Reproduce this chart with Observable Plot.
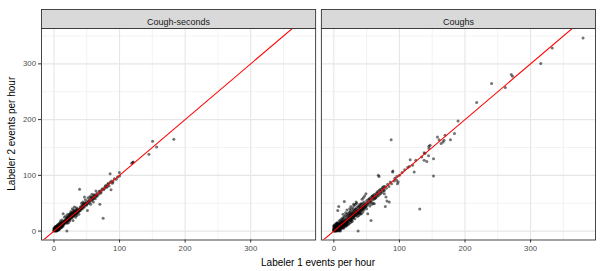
<!DOCTYPE html>
<html><head><meta charset="utf-8">
<script src="https://cdn.jsdelivr.net/npm/d3@7"></script>
<script src="https://cdn.jsdelivr.net/npm/@observablehq/plot@0.6"></script>
<style>body{margin:0;background:#fff}</style>
</head><body><div id="chart"></div>
<script>
const panels = ["Cough-seconds", "Coughs"];
const xTitle = "Labeler 1 events per hour";
const yTitle = "Labeler 2 events per hour";
const majorTicks = [0, 100, 200, 300];
const minorTicks = [50, 150, 250, 350];
const xDomain = [-19, 399];
const yDomain = [-16, 363.5];

// Cough-seconds panel: [labeler 1, labeler 2]
const coughSecondsPts = [
[0,0],[0,1],[1,0],[1,1],[0.5,2],[2,0.5],[1,3],[2,2],[3,1],[2,4],[3,3],[4,2],[3,5],[4,4],[5,3],[4,6],[5,5],[6,4],[5,7],[6,6],[7,5],[6,8],[7,7],[8,6],[7,9],[8,8],[9,7],[8,10],[9,9],[10,8],[9,11],[10,10],[11,9],[10,12],[11,11],[12,10],[11,13],[12,12],[13,11],[12,14],[13,13],[14,12],[13,15],[14,14],[15,13],[2,6],[3,8],[5,10],[6,12],[8,14],[4,0],[6,2],[8,3],[10,6],[12,7],[0,3],[0,5],[1,6],[3,0],[7,2],[9,4],[11,7],[14,9],[5,1],[7,11],[9,13],[10,15],[4,9],[1,4],[2,8],
[15,15],[16,16],[16,18],[17,15],[17,17],[18,18],[18,20],[19,17],[19,19],[20,20],[20,22],[21,19],[21,21],[22,22],[22,25],[23,21],[23,23],[24,24],[24,27],[25,23],[25,25],[26,26],[26,29],[27,25],[27,27],[28,28],[28,31],[29,27],[29,29],[30,30],[30,33],[31,29],[31,31],[32,32],[32,36],[33,30],[33,33],[34,34],[34,38],[35,33],[35,35],[36,36],[36,40],[37,35],[37,37],[38,38],[39,37],[39,39],[40,40],[40,43],
[14,31],[18,27],[20,14],[22,15],[24,18],[29,19],[26,35],[28,40],[31,43],[33,25],[35,28],[19.7,0],[38,30],[16,25],[12,20],[10,18],[21,30],[25,32],[30,38],[34,42],
[41,41],[42,44],[43,42],[44,45],[45,44],[46,48],[46.5,43],[46.5,61],[47,47],[48,50],[49,47],[50,52],[51,37],[51,50],[52,54],[53,52],[54,56],[55,53],[56,58],[57,55],[58,60],[59,58],[60,62],[61,59],[62,64],[63,61],[64,65],[65,63],[66,68],[68,66],[70,48],[70,72],[72,70],[74,76],[75,23],[76,74],[78,80],[80,78],[82,84],[84,81],[86,88],[87,74],[85.6,103],[88,90],[90,88],[92,94],[95,93],
[39,75],[42,50],[44,52],[48,56],[52,60],[55,62],[58,66],[60,52],[64,72],[56,48],
[3,6],[5,8],[7,4],[9,12],[11,14],[13,10],[15,18],[17,20],[19,22],[21,24],[23,26],[25,28],[27,30],[29,32],[31,34],[33,36],[35,38],[16,13],[18,15],[20,17],[22,19],[24,21],[26,23],[28,25],[30,27],[32,29],[34,31],[36,33],[38,35],[40,37],[42,39],[44,41],[43,47],[45,49],[47,51],[50,47],[53,50],[57,61],[59,56],[61,65],[63,58],[66,63],[69,71],[71,68],[73,74],[77,77],[79,82],[81,80],[83,86],[89,86],[6,9],[8,11],[10,13],[12,15],[14,17],[4,1],[6,3],[8,5],[10,7],[12,9],[14,11],[2,5],[20,25],[22,28],[24,30],[26,32],[28,34],[30,36],
[97,97],[99.7,105],[100,99],[118.5,121.5],[120,123],[121,124],[144.8,137.7],[150.4,161],[156.5,150.8],[182.8,165]
];

// Coughs panel: [labeler 1, labeler 2]
const coughsPts = [
[0,0],[0,1],[1,0],[1,1],[0,2],[2,0],[1,2],[2,1],[2,2],[0,3],[3,0],[1,3],[3,1],[2,3],[3,2],[3,3],[0,4],[4,0],[2,4],[4,2],[4,4],[1,5],[5,1],[3,5],[5,3],[5,5],[2,6],[6,2],[4,6],[6,4],[6,6],[3,7],[7,3],[5,7],[7,5],[7,7],[4,8],[8,4],[6,8],[8,6],[8,8],[5,9],[9,5],[7,9],[9,7],[9,9],[6,10],[10,6],[8,10],[10,8],[10,10],[7,11],[11,7],[9,11],[11,9],[11,11],[8,12],[12,8],[10,12],[12,10],[12,12],[9,13],[13,9],[11,13],[13,11],[13,13],[10,14],[14,10],[12,14],[14,12],[14,14],[11,15],[15,11],[13,15],[15,13],[15,15],[12,16],[16,12],[14,16],[16,14],[16,16],[13,17],[17,13],[15,17],[17,15],[17,17],[18,14],[18,18],[16,19],[19,16],[19,19],[20,17],[20,20],[18,21],[21,18],[21,21],[0,6],[0,8],[2,9],[4,11],[6,14],[3,12],[8,2],[10,3],[12,5],[14,6],[16,8],[18,10],[7,0],[9,1],[1,9],[5,13],[11,18],[13,20],[15,22],[20,12],[22,14],
[22,22],[22,25],[23,20],[23,23],[24,24],[24,28],[25,21],[25,25],[26,26],[26,30],[27,23],[27,27],[28,28],[28,32],[29,25],[29,29],[30,30],[30,34],[31,27],[31,31],[32,32],[32,37],[33,28],[33,33],[34,34],[34,39],[35,30],[35,35],[36,36],[36.5,34],[37,0],[37,32],[37,37],[38,38],[38,43],[39,34],[39,39],[40,40],[40,45],[41,36],[41,41],[42,42],[42,48],[43,38],[43,43],[44,44],[44,50],[45,40],[45,45],[46,46],[46,52],[47,42],[47,47],[48,48],[49,44],[49,67],[49,49],[50,50],[50,55],
[6,37],[7.5,44],[16,53],[14,30],[18,33],[20,38],[24,40],[26,19],[28,20],[30,24],[32,22],[26,44],[30,48],[34,52],[38,28],[40,32],[44,34],[46,38],[50,40],
[19,24],[21,27],[23,29],[25,31],[27,33],[29,36],[31,38],[33,40],[35,42],[37,44],[39,47],[41,49],[20,15],[22,17],[24,19],[26,21],[28,23],[30,26],[32,28],[34,29],[36,31],[38,33],[40,36],[42,38],[44,40],[46,42],[48,44],[50,46],[52,48],[54,58],[56,52],[58,62],[60,64],[62,58],[64,60],[66,70],[68,64],[70,74],[72,68],[74,78],[76,80],[5,11],[7,13],[9,15],[3,9],[11,5],[13,7],[15,9],[17,11],[19,13],[4,14],[8,18],[2,12],[10,20],[12,22],[14,24],[16,26],[18,28],[20,30],[22,32],[24,34],[18,8],[20,10],[22,12],[24,14],[26,16],[28,17],[0,10],[10,0],[5,15],[15,5],[25,36],[27,39],[29,42],[31,46],[33,48],[35,50],[43,57],[45,60],[47,63],[36,26],[40,30],[42,31],[55,45],[58,48],[60,50],
[51.7,31],[52,52],[53,57],[54,50],[55,55],[56,60],[56.7,19],[57,53],[58,58],[59,63],[60,56],[61,61],[61.7,49],[62,66],[63,59],[64,64],[65,68],[66,62],[67,67],[67.8,100],[68,72],[69,98],[70,66],[71,71],[72,75],[74,70],[75,76],[76,73],[77,73],[77,67],[78,80],[78.5,44],[79.5,61],[80,77],[81,54],[82,84],[84,80],[84.5,52],[86,88],[87.4,164],[88,85],[89.7,106],[90,107.7],[92,90],[93,95],[95.7,91],[97,85],[98,88],[96,98],[100,100],
[104,105],[108,110],[112.5,114],[115,116],[116.4,128],[120,118],[122.5,106],[125,127],[131,39.5],[134,133],[137.7,127],[137.7,140.7],[139,139],[141.8,125],[144.4,135],[145,148],[145,152],[146.8,154],[152,130],[152,98.7],[158,169],[160.5,164],[163.6,157],[166.6,160],[168,163],[169.6,172],[177.8,164],[184,175],[189.4,197.5],[217.8,230.5],[240.6,265],[261.4,257.5],[270.5,281],[272.5,278],[315.5,300.5],[333,328.5],[380,346.5]
];

const rows = [
  ...coughSecondsPts.map(([x, y]) => ({panel: panels[0], x, y})),
  ...coughsPts.map(([x, y]) => ({panel: panels[1], x, y}))
];
const refLine = panels.map(p => ({panel: p}));

const W = 602, H = 271, mL = 41, mR = 7, mT = 28, mB = 31.5;
const frameH = H - mT - mB;
const stripH = 19;
const font = "'Liberation Sans', Arial, Helvetica, sans-serif";

const plot = Plot.plot({
  width: W, height: H,
  marginLeft: mL, marginRight: mR, marginTop: mT, marginBottom: mB,
  style: {fontFamily: font, background: "#fff"},
  facet: {marginTop: 0, marginRight: 0, marginBottom: 0, marginLeft: 0},
  fx: {domain: panels, paddingInner: 0.0205, paddingOuter: 0, round: false, axis: null, label: null},
  x: {domain: xDomain, label: null},
  y: {domain: yDomain, label: null},
  marks: [
    Plot.gridX({ticks: minorTicks, stroke: "#ebebeb", strokeOpacity: 1, strokeWidth: 0.6}),
    Plot.gridY({ticks: minorTicks, stroke: "#ebebeb", strokeOpacity: 1, strokeWidth: 0.6}),
    Plot.gridX({ticks: majorTicks, stroke: "#e6e6e6", strokeOpacity: 1, strokeWidth: 1.1}),
    Plot.gridY({ticks: majorTicks, stroke: "#e6e6e6", strokeOpacity: 1, strokeWidth: 1.1}),
    Plot.dot(rows, {fx: "panel", x: "x", y: "y", r: 1.5, fill: "#000", fillOpacity: 0.55, stroke: null}),
    Plot.link(refLine, {fx: "panel", x1: () => xDomain[0], y1: () => xDomain[0], x2: () => xDomain[1], y2: () => xDomain[1], stroke: "#ff0000", strokeWidth: 1.1, clip: true}),
    Plot.frame({stroke: "#333", strokeWidth: 0.9}),
    Plot.frame({fill: "#d9d9d9", stroke: "#333", strokeWidth: 0.9, insetTop: -stripH, insetBottom: frameH}),
    Plot.text(panels, {fx: d => d, text: d => d, frameAnchor: "top", dy: -stripH / 2, fontSize: 9, fill: "#1a1a1a"}),
    Plot.axisX({ticks: majorTicks, tickSize: 3, tickPadding: 2, fontSize: 7.8, stroke: "#333", fill: "#4d4d4d", label: null}),
    Plot.axisY({ticks: majorTicks, tickSize: 3, tickPadding: 2.5, fontSize: 7.8, stroke: "#333", fill: "#4d4d4d", label: null})
  ]
});

const svg = d3.select(plot);
svg.append("text")
  .attr("x", (mL + W - mR) / 2).attr("y", 266)
  .attr("text-anchor", "middle").attr("font-size", 10).attr("font-family", font).attr("fill", "#000")
  .text(xTitle);
svg.append("text")
  .attr("transform", `translate(14.5,${mT + frameH / 2}) rotate(-90)`)
  .attr("text-anchor", "middle").attr("font-size", 10).attr("font-family", font).attr("fill", "#000")
  .text(yTitle);

document.getElementById("chart").appendChild(plot);
</script>
</body></html>
